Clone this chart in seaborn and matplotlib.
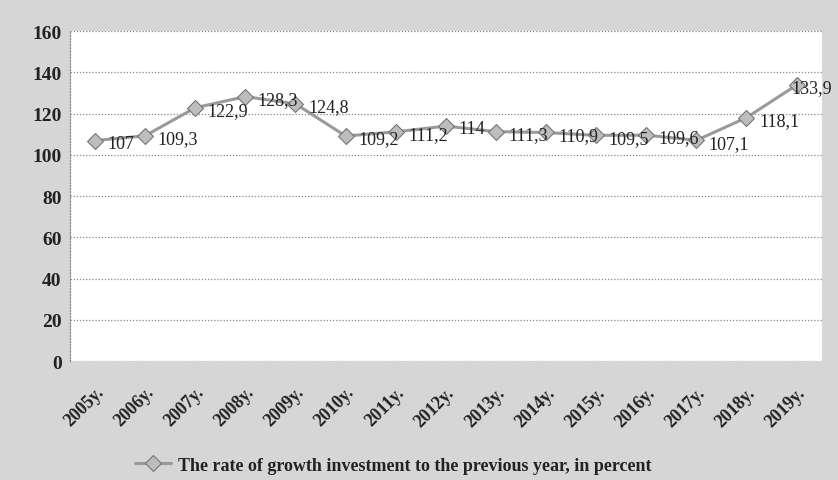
import matplotlib
matplotlib.use("Agg")
import matplotlib.pyplot as plt
import seaborn as sns
import pandas as pd

years = ["2005y.", "2006y.", "2007y.", "2008y.", "2009y.", "2010y.", "2011y.", "2012y.",
         "2013y.", "2014y.", "2015y.", "2016y.", "2017y.", "2018y.", "2019y."]
values = [107, 109.3, 122.9, 128.3, 124.8, 109.2, 111.2, 114, 111.3, 110.9, 109.5, 109.6, 107.1, 118.1, 133.9]
labels = ["107", "109,3", "122,9", "128,3", "124,8", "109,2", "111,2", "114", "111,3",
          "110,9", "109,5", "109,6", "107,1", "118,1", "133,9"]
series_name = "The rate of growth investment to the previous year, in percent"
yticks = [0, 20, 40, 60, 80, 100, 120, 140, 160]

sns.set_theme(style="white")
plt.rcParams['font.family'] = ['Liberation Serif', 'DejaVu Serif']

df = pd.DataFrame({"year": years, "value": values, "series": series_name})

fig = plt.figure(figsize=(8.38, 4.81), dpi=100, facecolor="#d6d6d6")
ax = fig.add_axes([0.0835, 0.247, 0.897, 0.686])
ax.set_facecolor("white")

sns.lineplot(data=df, x="year", y="value", hue="series", palette=["#9a9a9a"],
             marker="D", markersize=8, markeredgecolor="#707070", markerfacecolor="#bdbdbd",
             linewidth=2.2, ax=ax, sort=False)

n = len(values)
for i, (v, t) in enumerate(zip(values, labels)):
    dx = 9 if i < n - 1 else -4
    ax.annotate(t, (i, v), xytext=(dx, -2), textcoords="offset points", ha="left", va="center",
                fontsize=13, color="#222222")

ax.set_ylim(0, 160)
ax.set_xlim(-0.5, len(years) - 0.5)
ax.set_yticks(yticks)
ax.set_yticklabels([str(y) for y in yticks], fontsize=14, fontweight="bold", color="#222222")
ax.set_xticks(range(len(years)))
ax.set_xticklabels(years, rotation=45, ha="right", rotation_mode="anchor", fontsize=13,
                   fontweight="bold", color="#222222")
ax.tick_params(axis="x", pad=16, length=0)
ax.tick_params(axis="y", pad=6, length=0)
ax.yaxis.grid(True, linestyle=(0, (1, 1.5)), color="#888888", linewidth=0.9)
ax.set_xlabel("")
ax.set_ylabel("")
for s in ["top", "right", "bottom"]:
    ax.spines[s].set_visible(False)
ax.spines["left"].set_linestyle((0, (1, 1.5)))
ax.spines["left"].set_color("#888888")
ax.spines["left"].set_linewidth(0.9)

leg = ax.legend(loc="center", bbox_to_anchor=(0.43, -0.315), frameon=False,
                prop={"size": 13, "weight": "bold"}, handlelength=2.0, handletextpad=0.4)
for text in leg.get_texts():
    text.set_color("#222222")

fig.savefig("out.png", dpi=100, facecolor=fig.get_facecolor())
